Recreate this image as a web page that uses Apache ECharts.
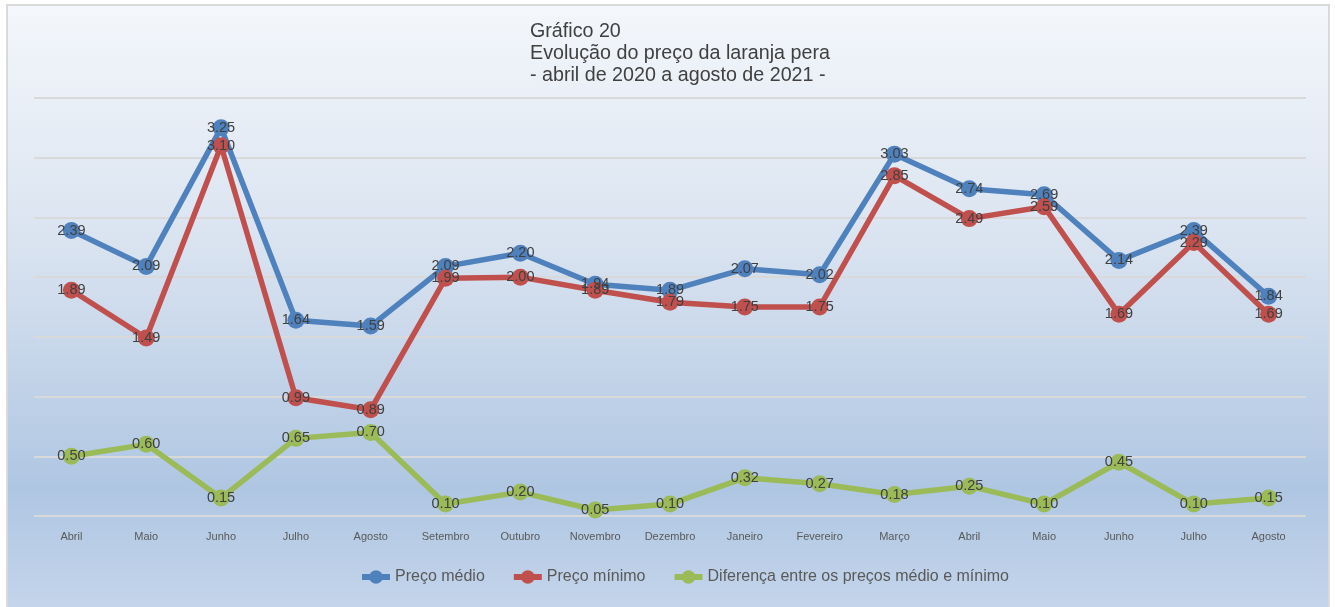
<!DOCTYPE html>
<html>
<head>
<meta charset="utf-8">
<script src="https://cdn.jsdelivr.net/npm/echarts@6/dist/echarts.min.js"></script>
<style>
  html, body { margin: 0; padding: 0; background: #fff; }
  #chart { width: 1335px; height: 607px; }
</style>
</head>
<body>
<div id="chart"></div>
<script>
// categorias (abril 2020 a agosto 2021)
const months = ['Abril', 'Maio', 'Junho', 'Julho', 'Agosto', 'Setembro', 'Outubro', 'Novembro', 'Dezembro',
  'Janeiro', 'Fevereiro', 'Março', 'Abril', 'Maio', 'Junho', 'Julho', 'Agosto']
const precoMedio = [2.39, 2.09, 3.25, 1.64, 1.59, 2.09, 2.20, 1.94, 1.89, 2.07, 2.02, 3.03, 2.74, 2.69, 2.14, 2.39, 1.84]
const precoMinimo = [1.89, 1.49, 3.10, 0.99, 0.89, 1.99, 2.00, 1.89, 1.79, 1.75, 1.75, 2.85, 2.49, 2.59, 1.69, 2.29, 1.69]
const diferenca = [0.50, 0.60, 0.15, 0.65, 0.70, 0.10, 0.20, 0.05, 0.10, 0.32, 0.27, 0.18, 0.25, 0.10, 0.45, 0.10, 0.15]
const seriesNames = ['Preço médio', 'Preço mínimo', 'Diferença entre os preços médio e mínimo']
const colors = ['#4f81bd', '#c0504d', '#9bbb59']

const chart = echarts.init(document.getElementById('chart'))

function makeSeries(name, data, color) {
  return {
    name: name,
    type: 'line',
    data: data,
    symbol: 'circle',
    symbolSize: 17,
    lineStyle: { width: 5.5, color: color },
    itemStyle: { color: color },
    label: {
      show: true,
      position: 'inside',
      color: '#404040',
      fontSize: 14.5,
      fontFamily: 'Liberation Sans, Arial, sans-serif',
      formatter: p => p.value.toFixed(2)
    },
    emphasis: { disabled: true },
    animation: false
  }
}

chart.setOption({
  backgroundColor: '#fff',
  graphic: [{
    type: 'rect',
    z: -10,
    shape: { x: 7, y: 5, width: 1322, height: 604 },
    style: {
      fill: new echarts.graphic.LinearGradient(0, 0, 0, 1, [
        { offset: 0, color: '#f4f7fb' },
        { offset: 0.4, color: '#d9e3f0' },
        { offset: 0.8, color: '#afc6e2' },
        { offset: 1, color: '#c4d5eb' }
      ]),
      stroke: '#d9d9d9',
      lineWidth: 2
    }
  }],
  title: {
    text: 'Gráfico 20\nEvolução do preço da laranja pera\n- abril de 2020 a agosto de 2021 -',
    left: 525,
    top: 16,
    textStyle: {
      fontSize: 19.7,
      fontWeight: 'normal',
      color: '#404040',
      lineHeight: 22,
      fontFamily: 'Liberation Sans, Arial, sans-serif'
    }
  },
  legend: {
    bottom: 17,
    left: 354,
    itemWidth: 28,
    itemHeight: 17,
    itemGap: 26,
    lineStyle: { width: 6 },
    textStyle: { fontSize: 16, color: '#595959', fontFamily: 'Liberation Sans, Arial, sans-serif' },
    data: seriesNames
  },
  grid: { left: 34, right: 29, top: 98, bottom: 91 },
  xAxis: {
    type: 'category',
    data: months,
    boundaryGap: true,
    axisLine: { show: false },
    axisTick: { show: false },
    axisLabel: { color: '#595959', fontSize: 11, margin: 15, fontFamily: 'Liberation Sans, Arial, sans-serif' }
  },
  yAxis: {
    type: 'value',
    min: 0,
    max: 3.5,
    interval: 0.5,
    axisLabel: { show: false },
    axisLine: { show: false },
    axisTick: { show: false },
    splitLine: { lineStyle: { color: '#d9d9d9', width: 2 } }
  },
  series: [
    makeSeries(seriesNames[0], precoMedio, colors[0]),
    makeSeries(seriesNames[1], precoMinimo, colors[1]),
    makeSeries(seriesNames[2], diferenca, colors[2])
  ]
})
</script>
</body>
</html>
